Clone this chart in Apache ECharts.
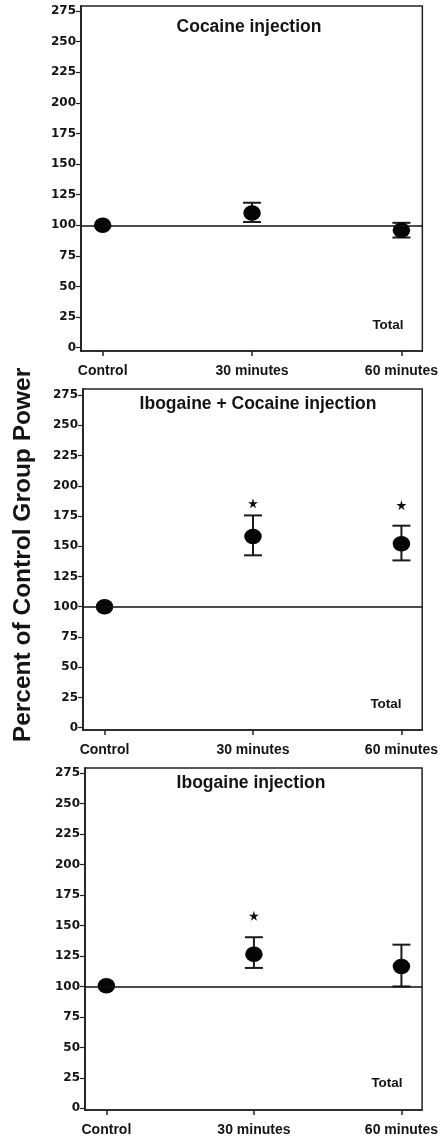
<!DOCTYPE html>
<html>
<head>
<meta charset="utf-8">
<script src="https://cdn.jsdelivr.net/npm/echarts@6/dist/echarts.min.js"></script>
<style>
html,body{margin:0;padding:0;background:#fff;}
#chart{width:441px;height:1140px;}
</style>
</head>
<body>
<div id="chart"></div>
<script>
// ---- data ----
const categories = ['Control', '30 minutes', '60 minutes'];
const yTickValues = [0, 25, 50, 75, 100, 125, 150, 175, 200, 225, 250, 275];
const panelTitles = ['Cocaine injection', 'Ibogaine + Cocaine injection', 'Ibogaine injection'];
const cornerLabel = 'Total';
const yAxisTitle = 'Percent of Control Group Power';
const referenceLevel = 100;

const cocaineMean = [100, 110, 96];
const cocaineLow = [null, 102.7, 90];
const cocaineHigh = [null, 118.4, 102];
const cocaineStar = [null, null, null];

const iboCocMean = [100, 158, 152];
const iboCocLow = [null, 142.5, 138.3];
const iboCocHigh = [null, 175.5, 167];
const iboCocStar = [null, 185.5, 184];

const ibogaineMean = [100.5, 126.5, 116.3];
const ibogaineLow = [null, 115.2, 100];
const ibogaineHigh = [null, 140.4, 134.3];
const ibogaineStar = [null, 158, null];

// ---- layout ----
const panels = [
  {mean: cocaineMean, low: cocaineLow, high: cocaineHigh, star: cocaineStar},
  {mean: iboCocMean, low: iboCocLow, high: iboCocHigh, star: iboCocStar},
  {mean: ibogaineMean, low: ibogaineLow, high: ibogaineHigh, star: ibogaineStar}
];
const layouts = [
  {left: 81, top: 6, height: 345, right: 17, yMin: -2.7, yMax: 279.1, titleX: 249, titleY: 27, totalX: 388, totalY: 325},
  {left: 83, top: 389, height: 341, right: 17, yMin: -1.9, yMax: 280, titleX: 258, titleY: 404, totalX: 386, totalY: 704},
  {left: 85, top: 768, height: 342, right: 16, yMin: -1.4, yMax: 279.3, titleX: 251, titleY: 783, totalX: 387, totalY: 1083}
];

const INK = '#141414';
const starPath = 'path://M50,0 L61,35 L98,35 L68,57 L79,91 L50,70 L21,91 L32,57 L2,35 L39,35 Z';

const grids = [], xAxes = [], yAxes = [], series = [], graphics = [];

layouts.forEach((L, i) => {
  grids.push({left: L.left, top: L.top, right: L.right, height: L.height, show: true,
    borderColor: '#222', borderWidth: 1.5, backgroundColor: 'transparent', containLabel: false});
  xAxes.push({
    type: 'value', gridIndex: i, min: -0.145, max: 2.14,
    splitLine: {show: false},
    axisLine: {show: true, onZero: false, lineStyle: {color: '#222', width: 1.6}},
    axisTick: {show: true, length: 5, inside: false, customValues: [0, 1, 2], lineStyle: {color: '#222', width: 1.5}},
    axisLabel: {show: true, customValues: [0, 1, 2], margin: 13,
      formatter: v => categories[Math.round(v)] || '',
      color: INK, fontFamily: '"Liberation Sans", Arial, sans-serif', fontWeight: 'bold', fontSize: 14}
  });
  yAxes.push({
    type: 'value', gridIndex: i, min: L.yMin, max: L.yMax,
    splitLine: {show: false},
    axisLine: {show: true, onZero: false, lineStyle: {color: '#222', width: 1.8}},
    axisTick: {show: true, length: 5, customValues: yTickValues, lineStyle: {color: '#222', width: 1.2}},
    axisLabel: {show: true, customValues: yTickValues, margin: 5,
      color: INK, fontFamily: '"DejaVu Sans", sans-serif', fontWeight: 'bold', fontSize: 12}
  });

  const P = panels[i];
  const errData = [];
  P.low.forEach((lo, k) => { if (lo != null) errData.push([k, lo, P.high[k]]); });
  series.push({
    type: 'custom', xAxisIndex: i, yAxisIndex: i, z: 2, silent: true,
    data: errData,
    renderItem: function (params, api) {
      const x = api.value(0), lo = api.value(1), hi = api.value(2);
      const pLo = api.coord([x, lo]), pHi = api.coord([x, hi]);
      const w = 9;
      const st = {stroke: '#1a1a1a', lineWidth: 2};
      return {type: 'group', children: [
        {type: 'line', shape: {x1: pLo[0], y1: pLo[1], x2: pHi[0], y2: pHi[1]}, style: st},
        {type: 'line', shape: {x1: pLo[0] - w, y1: pLo[1], x2: pLo[0] + w, y2: pLo[1]}, style: st},
        {type: 'line', shape: {x1: pHi[0] - w, y1: pHi[1], x2: pHi[0] + w, y2: pHi[1]}, style: st}
      ]};
    },
    markLine: {silent: true, symbol: 'none', label: {show: false},
      lineStyle: {color: '#111', width: 1.6, type: 'solid', opacity: 1},
      data: [{yAxis: referenceLevel}]}
  });
  series.push({
    type: 'scatter', xAxisIndex: i, yAxisIndex: i, z: 3, silent: true,
    symbol: 'circle', symbolSize: [17.5, 15.5],
    itemStyle: {color: '#050505', opacity: 1},
    data: P.mean.map((v, k) => [k, v])
  });
  series.push({
    type: 'scatter', xAxisIndex: i, yAxisIndex: i, z: 3, silent: true,
    symbol: starPath, symbolSize: 10,
    itemStyle: {color: '#111', opacity: 1},
    data: P.star.map((v, k) => v == null ? null : [k, v]).filter(d => d)
  });

  graphics.push({type: 'text', x: L.titleX, y: L.titleY, style: {
    text: panelTitles[i], font: 'bold 17.5px "Liberation Sans", Arial, sans-serif', fill: INK,
    textAlign: 'center', textVerticalAlign: 'middle', align: 'center', verticalAlign: 'middle'}});
  graphics.push({type: 'text', x: L.totalX, y: L.totalY, style: {
    text: cornerLabel, font: 'bold 13.5px "Liberation Sans", Arial, sans-serif', fill: INK,
    textAlign: 'center', textVerticalAlign: 'middle', align: 'center', verticalAlign: 'middle'}});
});

graphics.push({type: 'text', x: 23, y: 555, rotation: Math.PI / 2, style: {
  text: yAxisTitle, font: 'bold 24.5px "Liberation Sans", Arial, sans-serif', fill: INK,
  textAlign: 'center', textVerticalAlign: 'middle', align: 'center', verticalAlign: 'middle'}});

const chart = echarts.init(document.getElementById('chart'), null, {renderer: 'canvas'});
chart.setOption({
  animation: false,
  backgroundColor: '#ffffff',
  grid: grids,
  xAxis: xAxes,
  yAxis: yAxes,
  series: series,
  graphic: graphics
});
</script>
</body>
</html>
